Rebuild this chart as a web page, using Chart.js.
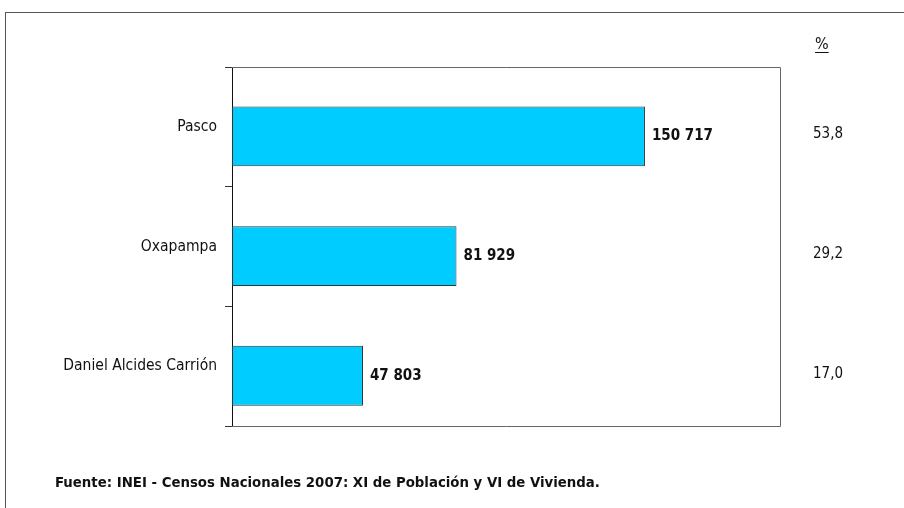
<!DOCTYPE html>
<html>
<head>
<meta charset="utf-8">
<script src="https://cdn.jsdelivr.net/npm/chart.js@4.4.1/dist/chart.umd.min.js"></script>
<style>
  html, body { margin: 0; padding: 0; background: #fff; }
  #wrap { position: relative; width: 904px; height: 508px; overflow: hidden; }
  #frame { position: absolute; left: 5px; top: 12px; width: 1000px; height: 600px;
           border-left: 1px solid #555; border-top: 1px solid #555; }
  #chart { position: absolute; left: 0; top: 0; }
</style>
</head>
<body>
<div id="wrap">
  <div id="frame"></div>
  <canvas id="chart" width="904" height="508"></canvas>
</div>
<script>
    const provincias = ['Pasco', 'Oxapampa', 'Daniel Alcides Carrión'];
    const poblacion = [150717, 81929, 47803];
    const porcentaje = ['53,8', '29,2', '17,0'];
    const fuente = 'Fuente: INEI - Censos Nacionales 2007: XI de Población y VI de Vivienda.';

    const FONT = '"Liberation Sans Narrow", "Arial Narrow", "DejaVu Sans Condensed", sans-serif';

    function miles(n) {
        return String(n).replace(/\B(?=(\d{3})+(?!\d))/g, ' ');
    }

    // bars sit a little below the middle of each band in the original,
    // so they go on their own (hidden) linear axis
    const puntos = poblacion.map((v, i) => ({ x: v, y: i }));

    const extras = {
        id: 'extras',
        afterDatasetsDraw(chart) {
            const ctx = chart.ctx;
            const area = chart.chartArea;
            ctx.save();
            ctx.strokeStyle = '#666';
            ctx.lineWidth = 1;
            ctx.beginPath();
            ctx.moveTo(area.left, area.top + 0.5);
            ctx.lineTo(area.right + 0.5, area.top + 0.5);
            ctx.lineTo(area.right + 0.5, area.bottom + 0.5);
            ctx.lineTo(area.left, area.bottom + 0.5);
            ctx.stroke();

            ctx.fillStyle = '#111';
            ctx.font = 'bold 15px ' + FONT;
            ctx.textBaseline = 'middle';
            ctx.textAlign = 'left';
            chart.getDatasetMeta(0).data.forEach((bar, i) => {
                ctx.fillText(miles(poblacion[i]), bar.x + 7, bar.y);
            });

            ctx.font = '15px ' + FONT;
            chart.getDatasetMeta(0).data.forEach((bar, i) => {
                ctx.fillText(porcentaje[i], area.right + 33, bar.y - 2);
            });

            ctx.font = '16px ' + FONT;
            ctx.textBaseline = 'alphabetic';
            ctx.fillText('%', area.right + 35, area.top - 18);
            const w = ctx.measureText('%').width;
            ctx.fillRect(area.right + 35, area.top - 15, w, 1);

            ctx.font = 'bold 14.8px ' + FONT;
            ctx.fillText(fuente, 55, 487);
            ctx.restore();
        }
    };

    new Chart(document.getElementById('chart').getContext('2d'), {
        type: 'bar',
        data: {
            labels: provincias,
            datasets: [{
                data: puntos,
                yAxisID: 'yb',
                backgroundColor: '#00CCFF',
                borderColor: '#333',
                borderWidth: 1,
                borderSkipped: false,
                categoryPercentage: 1,
                barPercentage: 0.5
            }]
        },
        options: {
            indexAxis: 'y',
            responsive: false,
            animation: false,
            layout: { padding: { left: 0, top: 67, right: 124, bottom: 82 } },
            plugins: { legend: { display: false }, tooltip: { enabled: false } },
            scales: {
                x: { display: false, min: 0, max: 200000 },
                y: {
                    type: 'category',
                    offset: true,
                    afterFit(scale) { scale.width = 232; },
                    grid: { offset: true, drawOnChartArea: false, tickLength: 7, color: '#333' },
                    border: { color: '#111', width: 1 },
                    ticks: { color: '#111', padding: 8, font: { family: FONT, size: 15.5 } }
                },
                yb: {
                    type: 'linear',
                    display: false,
                    offset: false,
                    reverse: true,
                    min: -0.58,
                    max: 2.42,
                    afterBuildTicks(scale) {
                        scale.ticks = poblacion.map((v, i) => ({ value: i }));
                    }
                }
            }
        },
        plugins: [extras]
    });
</script>
</body>
</html>
